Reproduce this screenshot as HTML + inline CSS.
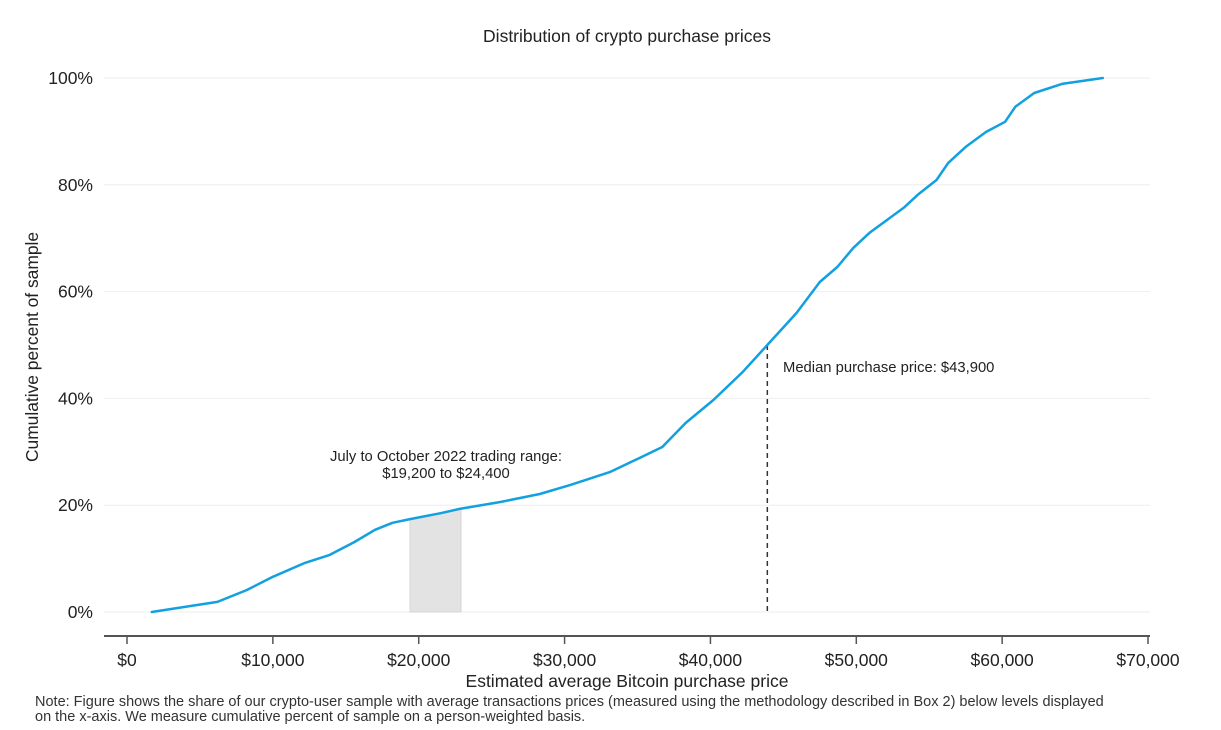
<!DOCTYPE html>
<html><head><meta charset="utf-8"><style>
body{margin:0;background:#fff;}
svg{display:block;font-family:"Liberation Sans",sans-serif;}
</style></head><body>
<svg id="chart" width="1221" height="730">
<text x="627" y="42" text-anchor="middle" font-size="17.5" fill="#222">Distribution of crypto purchase prices</text>
<g id="grid"></g><g id="yticks"></g><g id="xticks"></g><g id="marks"></g>
<text transform="translate(38,347) rotate(-90)" text-anchor="middle" font-size="17.4" fill="#222">Cumulative percent of sample</text>
<text x="627" y="687" text-anchor="middle" font-size="17.5" fill="#222">Estimated average Bitcoin purchase price</text>
<text x="446" y="461" text-anchor="middle" font-size="14.8" fill="#222"><tspan x="446">July to October 2022 trading range:</tspan><tspan x="446" dy="17">$19,200 to $24,400</tspan></text>
<text x="783" y="372" font-size="14.8" fill="#222">Median purchase price: $43,900</text>
<text x="35" y="706" font-size="14.5" fill="#333"><tspan x="35">Note: Figure shows the share of our crypto-user sample with average transactions prices (measured using the methodology described in Box 2) below levels displayed</tspan><tspan x="35" dy="15">on the x-axis. We measure cumulative percent of sample on a person-weighted basis.</tspan></text>
</svg>
<script>
const priceK=[1.7,4.3,6.2,8.2,10.0,12.2,13.9,15.6,17.0,18.2,19.4,21.5,22.8,25.6,28.3,30.4,33.1,35.1,36.7,38.3,40.2,42.2,43.9,45.9,47.5,48.7,49.8,50.9,53.3,54.2,55.5,56.3,57.5,58.9,60.2,60.9,62.2,64.1,66.9];
const cumPct=[0,1.1,1.9,4.1,6.6,9.2,10.7,13.1,15.4,16.7,17.4,18.5,19.3,20.6,22.1,23.8,26.2,28.8,30.9,35.4,39.7,44.9,50,56.0,61.8,64.6,68.2,71.0,75.8,78.1,80.9,84.1,87.1,89.9,91.8,94.6,97.2,98.9,100];
const xTicks=[0,10,20,30,40,50,60,70];
const xTickLabels=["$0","$10,000","$20,000","$30,000","$40,000","$50,000","$60,000","$70,000"];
const yTicks=[0,20,40,60,80,100];
const yTickLabels=["0%","20%","40%","60%","80%","100%"];
const medianK=43.9, medianPct=50;
const rangeK=[19.4,22.9];
const NS="http://www.w3.org/2000/svg";
const X=v=>127+v*14.586, Y=v=>612-v*5.34;
function mk(tag,attrs,parent){const e=document.createElementNS(NS,tag);for(const k in attrs)e.setAttribute(k,attrs[k]);document.getElementById(parent).appendChild(e);return e;}
function interp(k){for(let i=1;i<priceK.length;i++){if(k<=priceK[i]){const t=(k-priceK[i-1])/(priceK[i]-priceK[i-1]);return cumPct[i-1]+t*(cumPct[i]-cumPct[i-1]);}}return cumPct[cumPct.length-1];}
yTicks.forEach((v,i)=>{
 const g=mk('line',{x1:104,x2:1150,y1:Y(v),y2:Y(v),stroke:'#eeeeee','stroke-width':1},'grid');
 
 
 const t=mk('text',{x:93,y:Y(v)+6,'text-anchor':'end','font-size':17.5,fill:'#222'},'yticks');
 t.textContent=yTickLabels[i];
 
 
});
const ax=mk('line',{x1:104,x2:1150,y1:636,y2:636,stroke:'#555','stroke-width':2},'xticks');


xTicks.forEach((v,i)=>{
 const l=mk('line',{x1:X(v),x2:X(v),y1:636,y2:644,stroke:'#555','stroke-width':1.5},'xticks');
 
 
 const t=mk('text',{x:X(v),y:666,'text-anchor':'middle','font-size':17.5,fill:'#222'},'xticks');
 t.textContent=xTickLabels[i];
 
 
});
let pts=[[X(rangeK[0]),Y(0)]];
for(let k=rangeK[0];k<=rangeK[1]+1e-9;k+=0.1)pts.push([X(k),Y(interp(k))]);
pts.push([X(rangeK[1]),Y(interp(rangeK[1]))],[X(rangeK[1]),Y(0)]);
const sh=mk('polygon',{points:pts.map(p=>p.join(',')).join(' '),fill:'#e3e3e3',stroke:'#d6d6d6','stroke-width':1},'marks');


const md=mk('line',{x1:X(medianK),x2:X(medianK),y1:Y(medianPct),y2:Y(0),stroke:'#333','stroke-width':1.5,'stroke-dasharray':'5,4'},'marks');


const d=priceK.map((k,i)=>(i?'L':'M')+X(k).toFixed(1)+','+Y(cumPct[i]).toFixed(1)).join(' ');
const ln=mk('path',{d:d,fill:'none',stroke:'#12a0e0','stroke-width':2.5,'stroke-linejoin':'round','stroke-linecap':'round'},'marks');


</script>
</body></html>
